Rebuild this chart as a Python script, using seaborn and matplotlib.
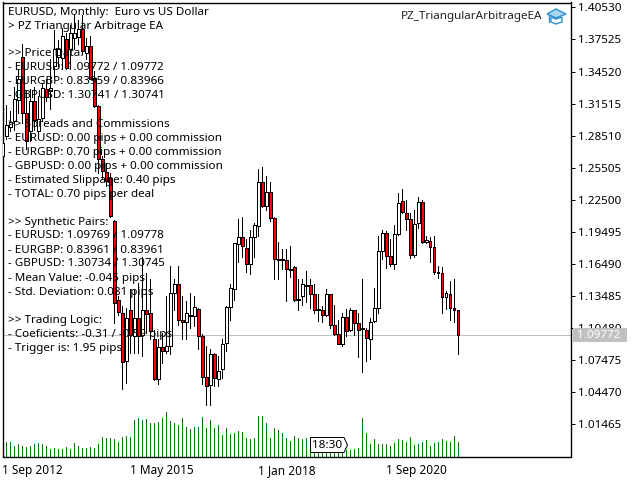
import numpy as np
import pandas as pd
import matplotlib
matplotlib.use("Agg")
import matplotlib.pyplot as plt
from matplotlib.patches import Polygon, Rectangle
import seaborn as sns

# monthly EURUSD candles
opens = [1.2657, 1.2851, 1.2932, 1.2986, 1.3189, 1.3590, 1.3064, 1.2892, 1.3173, 1.2892,
         1.3017, 1.3289, 1.3267, 1.3502, 1.3590, 1.3580, 1.3759, 1.3665, 1.3768, 1.3778,
         1.3853, 1.3627, 1.3690, 1.3393, 1.3127, 1.2632, 1.2507, 1.2454, 1.2047, 1.1311,
         1.1180, 1.0732, 1.1217, 1.0967, 1.1139, 1.0982, 1.1208, 1.1180, 1.0942, 1.0566,
         1.0867, 1.0826, 1.0873, 1.1374, 1.1461, 1.1123, 1.1098, 1.1158, 1.1155, 1.1223,
         1.0973, 1.0585, 1.0504, 1.0795, 1.0566, 1.0654, 1.0904, 1.1242, 1.1411, 1.1828,
         1.1900, 1.1796, 1.1640, 1.1900, 1.2000, 1.2416, 1.2188, 1.2322, 1.2078, 1.1690,
         1.1696, 1.1684, 1.1599, 1.1618, 1.1317, 1.1342, 1.1449, 1.1449, 1.1364, 1.1224,
         1.1214, 1.1161, 1.1364, 1.1073, 1.0989, 1.0892, 1.1148, 1.1023, 1.1214, 1.1092,
         1.1039, 1.1026, 1.0942, 1.1108, 1.1233, 1.1768, 1.1937, 1.1718, 1.1646, 1.1928,
         1.2234, 1.2125, 1.2069, 1.1731, 1.2031, 1.2228, 1.1853, 1.1862, 1.1806, 1.1571,
         1.1562, 1.1336, 1.1364, 1.1233, 1.1214]
closes = [1.2782, 1.2954, 1.2976, 1.3195, 1.3377, 1.3064, 1.2798, 1.3173, 1.3001, 1.3008,
          1.3299, 1.3214, 1.3299, 1.3659, 1.3665, 1.3790, 1.3486, 1.3809, 1.3815, 1.3853,
          1.3643, 1.3690, 1.3383, 1.3127, 1.2626, 1.2516, 1.2422, 1.2094, 1.1280, 1.1192,
          1.0723, 1.1139, 1.0982, 1.1139, 1.0973, 1.1208, 1.1177, 1.1014, 1.0560, 1.0867,
          1.0826, 1.0873, 1.1374, 1.1452, 1.1123, 1.1098, 1.1180, 1.1164, 1.1242, 1.0967,
          1.0585, 1.0497, 1.0795, 1.0576, 1.0644, 1.0889, 1.1242, 1.1421, 1.1837, 1.1900,
          1.1812, 1.1646, 1.1900, 1.2006, 1.2416, 1.2188, 1.2322, 1.2072, 1.1693, 1.1684,
          1.1684, 1.1599, 1.1587, 1.1305, 1.1305, 1.1458, 1.1439, 1.1364, 1.1211, 1.1211,
          1.1164, 1.1364, 1.1070, 1.0989, 1.0892, 1.1148, 1.1014, 1.1214, 1.1092, 1.1023,
          1.1033, 1.0951, 1.1101, 1.1233, 1.1768, 1.1937, 1.1724, 1.1643, 1.1928, 1.2219,
          1.2134, 1.2069, 1.1731, 1.2022, 1.2228, 1.1853, 1.1871, 1.1806, 1.1568, 1.1558,
          1.1336, 1.1374, 1.1233, 1.1214, 1.09772]
highs = [1.2860, 1.3142, 1.3080, 1.3308, 1.3477, 1.3706, 1.3277, 1.3283, 1.3308, 1.3220,
         1.3346, 1.3377, 1.3565, 1.3846, 1.3752, 1.3862, 1.3815, 1.3893, 1.3987, 1.3940,
         1.3987, 1.3768, 1.3784, 1.3455, 1.3142, 1.2657, 1.2594, 1.2501, 1.2062, 1.1342,
         1.1248, 1.1233, 1.1405, 1.1405, 1.1468, 1.1712, 1.1562, 1.1499, 1.1023, 1.0936,
         1.0998, 1.1342, 1.1624, 1.1499, 1.1624, 1.1342, 1.1295, 1.1374, 1.1342, 1.1233,
         1.0983, 1.0873, 1.0842, 1.0810, 1.0779, 1.0936, 1.1248, 1.1452, 1.1843, 1.2069,
         1.2087, 1.1881, 1.1962, 1.2031, 1.2541, 1.2557, 1.2475, 1.2416, 1.2084, 1.1853,
         1.1781, 1.1781, 1.1818, 1.1624, 1.1499, 1.1499, 1.1577, 1.1499, 1.1452, 1.1367,
         1.1249, 1.1411, 1.1367, 1.1255, 1.1117, 1.1186, 1.1224, 1.1233, 1.1217, 1.1186,
         1.1499, 1.1045, 1.1139, 1.1421, 1.1912, 1.1968, 1.1953, 1.1881, 1.2006, 1.2313,
         1.2353, 1.2241, 1.2125, 1.2156, 1.2272, 1.2250, 1.1912, 1.1900, 1.1912, 1.1624,
         1.1618, 1.1389, 1.1483, 1.1499, 1.1217]
lows = [1.2579, 1.2814, 1.2892, 1.2901, 1.3064, 1.2964, 1.2720, 1.2798, 1.2901, 1.2829,
        1.2986, 1.3173, 1.3102, 1.3377, 1.3502, 1.3471, 1.3471, 1.3471, 1.3659, 1.3706,
        1.3612, 1.3565, 1.3377, 1.3120, 1.2501, 1.2438, 1.2375, 1.2088, 1.1092, 1.1170,
        1.0466, 1.0529, 1.0810, 1.0810, 1.0810, 1.0779, 1.0998, 1.0936, 1.0554, 1.0513,
        1.0716, 1.0810, 1.0795, 1.1217, 1.1076, 1.0936, 1.0936, 1.1045, 1.1061, 1.0842,
        1.0513, 1.0319, 1.0325, 1.0497, 1.0497, 1.0576, 1.0826, 1.1117, 1.1305, 1.1662,
        1.1712, 1.1568, 1.1546, 1.1712, 1.1912, 1.2181, 1.2150, 1.2047, 1.1499, 1.1499,
        1.1593, 1.1295, 1.1524, 1.1295, 1.1211, 1.1264, 1.1286, 1.1233, 1.1180, 1.1108,
        1.1098, 1.1155, 1.1045, 1.0982, 1.0889, 1.0873, 1.0973, 1.1014, 1.0982, 1.0773,
        1.0629, 1.0732, 1.0757, 1.1098, 1.1180, 1.1687, 1.1608, 1.1630, 1.1599, 1.1921,
        1.2125, 1.1968, 1.1702, 1.1712, 1.1981, 1.1843, 1.1837, 1.1662, 1.1555, 1.1515,
        1.1180, 1.1224, 1.1117, 1.1098, 1.0798]
volumes = [15, 15, 15, 11, 13, 11, 10, 11, 13, 14, 13, 11, 8, 9, 8, 8, 10, 8, 14, 11,
           9, 9, 10, 9, 13, 20, 19, 19, 18, 15, 20, 21, 20, 37, 39, 37, 38, 34, 34, 35,
           39, 45, 36, 34, 32, 39, 30, 28, 30, 30, 40, 29, 37, 29, 32, 22, 29, 23, 24, 26,
           25, 19, 18, 19, 41, 41, 34, 19, 29, 27, 24, 19, 16, 21, 19, 18, 19, 12, 11, 12,
           10, 11, 12, 10, 11, 10, 7, 7, 8, 9, 39, 24, 13, 18, 13, 13, 13, 11, 14, 18,
           17, 15, 20, 12, 13, 15, 17, 11, 14, 15, 18, 16, 15, 21, 15]

date_ticks = [0, 32, 64, 96]
date_labels = ["1 Sep 2012", "1 May 2015", "1 Jan 2018", "1 Sep 2020"]
price_ticks = [1.40530, 1.37525, 1.34520, 1.31515, 1.28510, 1.25505, 1.22500,
               1.19495, 1.16490, 1.13485, 1.10480, 1.07475, 1.04470, 1.01465]
last_price = 1.09772

info_lines = [
    "EURUSD, Monthly:  Euro vs US Dollar",
    "> PZ Triangular Arbitrage EA",
    "",
    ">> Price Data:",
    "- EURUSD: 1.09772 / 1.09772",
    "- EURGBP: 0.83959 / 0.83966",
    "- GBPUSD: 1.30741 / 1.30741",
    "",
    ">> Spreads and Commissions",
    "- EURUSD: 0.00 pips + 0.00 commission",
    "- EURGBP: 0.70 pips + 0.00 commission",
    "- GBPUSD: 0.00 pips + 0.00 commission",
    "- Estimated Slippage: 0.40 pips",
    "- TOTAL: 0.70 pips per deal",
    "",
    ">> Synthetic Pairs:",
    "- EURUSD: 1.09769 / 1.09778",
    "- EURGBP: 0.83961 / 0.83961",
    "- GBPUSD: 1.30734 / 1.30745",
    "- Mean Value: -0.045 pips",
    "- Std. Deviation: 0.081 pips",
    "",
    ">> Trading Logic:",
    "- Coeficients: -0.31 / -0.59 pips",
    "- Trigger is: 1.95 pips",
]

W, H = 640, 480
ONE_PX = 0.72


def fx(x):
    return x / W


def fy(y):
    return 1 - y / H


sns.set_theme(style="white")
plt.rcParams["font.family"] = ["Noto Sans", "DejaVu Sans"]

df = pd.DataFrame({"open": opens, "high": highs, "low": lows, "close": closes, "volume": volumes})
df["bar"] = range(len(df))
df["up"] = df["close"] >= df["open"]

fig = plt.figure(figsize=(6.4, 4.8), dpi=100, facecolor="white")
ax = fig.add_axes([fx(2.5), fy(456.5), 568 / W, 454 / H])
ax.set_zorder(2)
ax.patch.set_visible(False)

# volume histogram along the bottom of the frame
ax_vol = fig.add_axes(ax.get_position(), zorder=1)
sns.barplot(data=df, x="bar", y="volume", native_scale=True, width=0.25, color="#008000",
            saturation=1, linewidth=0, ax=ax_vol)
ax_vol.set_ylim(0, 454)
ax_vol.set_xlim(0.08, 142.08)
ax_vol.axis("off")

# candles
ax.axhline(last_price, color="#c0c0c0", lw=ONE_PX, zorder=1)
ax.vlines(df["bar"], df["low"], df["high"], color="black", lw=ONE_PX, zorder=2, antialiased=False)
ax.bar(df["bar"], (df["close"] - df["open"]).abs(), bottom=df[["open", "close"]].min(axis=1),
       width=0.62, color=np.where(df["up"], "white", "#ff0000"), edgecolor="black",
       linewidth=ONE_PX, zorder=3, antialiased=False)

ax.set_xlim(0.08, 142.08)
ax.set_ylim(1.41281 - 0.000939 * 457, 1.41281 - 0.000939 * 3)
ax.set_xticks(date_ticks)
ax.set_xticklabels(date_labels, ha="left", fontsize=8.5, color="black")
ax.yaxis.tick_right()
ax.set_yticks(price_ticks)
ax.set_yticklabels([f"{p:.5f}" for p in price_ticks], fontsize=8.4, color="black")
ax.tick_params(axis="x", length=3.5, width=ONE_PX, pad=2, color="black")
ax.tick_params(axis="y", length=3, width=ONE_PX, pad=2.5, color="black")
ax.set_xlabel("")
ax.set_ylabel("")
for spine in ax.spines.values():
    spine.set_linewidth(1.0)
    spine.set_color("black")
    spine.set_visible(True)

# expert advisor's text block
for n, line in enumerate(info_lines):
    fig.text(fx(8), fy(12 + 14 * n), line, fontsize=8.4, color="black", va="center", ha="left", zorder=5)

fig.text(fx(542), fy(17), "PZ_TriangularArbitrageEA", fontsize=8.4, color="#222222",
         va="center", ha="right", zorder=5)

# small graduation cap next to the EA name
cap_blue = "#2d8fd0"
fig.add_artist(Polygon([(fx(a), fy(b)) for a, b in [(547, 14), (556, 9), (566, 14), (556, 18)]],
                       closed=True, facecolor="#a8d4f0", edgecolor=cap_blue, lw=1,
                       transform=fig.transFigure, zorder=5))
fig.add_artist(Polygon([(fx(a), fy(b)) for a, b in [(551, 17), (551, 22), (556, 24), (562, 22), (562, 17), (556, 19)]],
                       closed=True, facecolor="white", edgecolor=cap_blue, lw=1,
                       transform=fig.transFigure, zorder=5))
fig.add_artist(plt.Line2D([fx(549), fx(549)], [fy(15), fy(22)], color=cap_blue, lw=1,
                          transform=fig.transFigure, zorder=5))

# last price tag on the axis
fig.add_artist(Rectangle((fx(573), fy(342)), 54 / W, 14 / H, facecolor="#c0c0c0", edgecolor="none",
                         transform=fig.transFigure, zorder=5))
fig.text(fx(577), fy(335.5), f"{last_price:.5f}", fontsize=8.4, color="white", va="center",
         ha="left", zorder=6)

# countdown tag
fig.add_artist(Polygon([(fx(a), fy(b)) for a, b in [(310.5, 437.5), (344, 437.5), (347.5, 445), (344, 452.5), (310.5, 452.5)]],
                       closed=True, facecolor="white", edgecolor="black", lw=ONE_PX,
                       transform=fig.transFigure, zorder=5))
fig.text(fx(327.5), fy(445), "18:30", fontsize=8.4, color="black", va="center", ha="center", zorder=6)

fig.savefig("out.png", dpi=100, facecolor="white")
